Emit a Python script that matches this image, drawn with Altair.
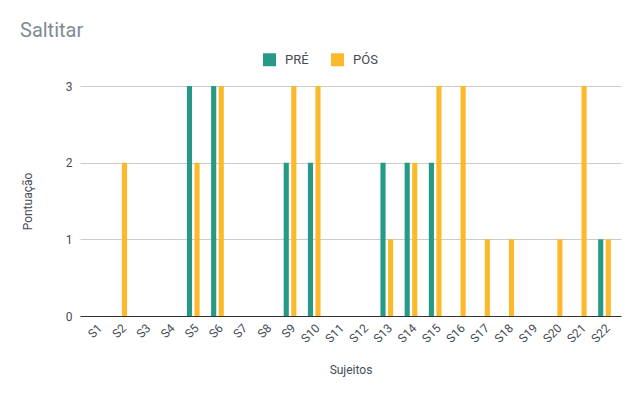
import altair as alt
import pandas as pd

subjects = [f"S{i}" for i in range(1, 23)]
pre = [0, 0, 0, 0, 3, 3, 0, 0, 2, 2, 0, 0, 2, 2, 2, 0, 0, 0, 0, 0, 0, 1]
pos = [0, 2, 0, 0, 2, 3, 0, 0, 3, 3, 0, 0, 1, 2, 3, 3, 1, 1, 0, 1, 3, 1]
series = ["PRÉ", "PÓS"]
colors = ["#279A87", "#FCBA2B"]

rows = []
for s, a, b in zip(subjects, pre, pos):
    rows.append({"Sujeito": s, "Série": series[0], "Pontuação": a})
    rows.append({"Sujeito": s, "Série": series[1], "Pontuação": b})
df = pd.DataFrame(rows)

label_color = "#444c55"

chart = alt.Chart(df).mark_bar().encode(
    x=alt.X("Sujeito:N", sort=subjects,
            scale=alt.Scale(paddingInner=0.475, paddingOuter=0.42),
            axis=alt.Axis(title="Sujeitos", labelAngle=-45, ticks=False,
                          labelFontSize=12, labelColor=label_color,
                          labelPadding=6, titleFontSize=12, titleFontWeight="normal",
                          titleColor=label_color, titlePadding=20,
                          domainColor="#333333", grid=False)),
    xOffset=alt.XOffset("Série:N", sort=series, scale=alt.Scale(paddingInner=0.32)),
    y=alt.Y("Pontuação:Q", scale=alt.Scale(domain=[0, 3]),
            axis=alt.Axis(title="Pontuação", values=[0, 1, 2, 3], format="d",
                          ticks=False, domain=False, gridColor="#cccccc",
                          labelFontSize=12, labelColor=label_color, labelPadding=8,
                          titleFontSize=12, titleFontWeight="normal",
                          titleColor=label_color, titlePadding=31)),
    color=alt.Color("Série:N", sort=series,
                    scale=alt.Scale(domain=series, range=colors),
                    legend=alt.Legend(title=None, orient="none", direction="horizontal",
                                      legendX=183, legendY=-33,
                                      symbolType="square", symbolSize=169,
                                      symbolStrokeWidth=0, symbolOpacity=1,
                                      labelFontSize=13, labelColor=label_color,
                                      labelOffset=9, columnPadding=22)),
).properties(
    width=541,
    height=230,
    title=alt.TitleParams("Saltitar", anchor="start", frame="group", dx=-60, fontSize=20,
                          fontWeight="normal", color="#7f8b93", offset=12),
    autosize=alt.AutoSizeParams(type="none"),
    padding={"left": 72, "top": 78, "right": 12, "bottom": 71},
).configure(font="Roboto").configure_view(stroke=None)

chart.save("out.html", embed_options={"renderer": "svg", "actions": False})
